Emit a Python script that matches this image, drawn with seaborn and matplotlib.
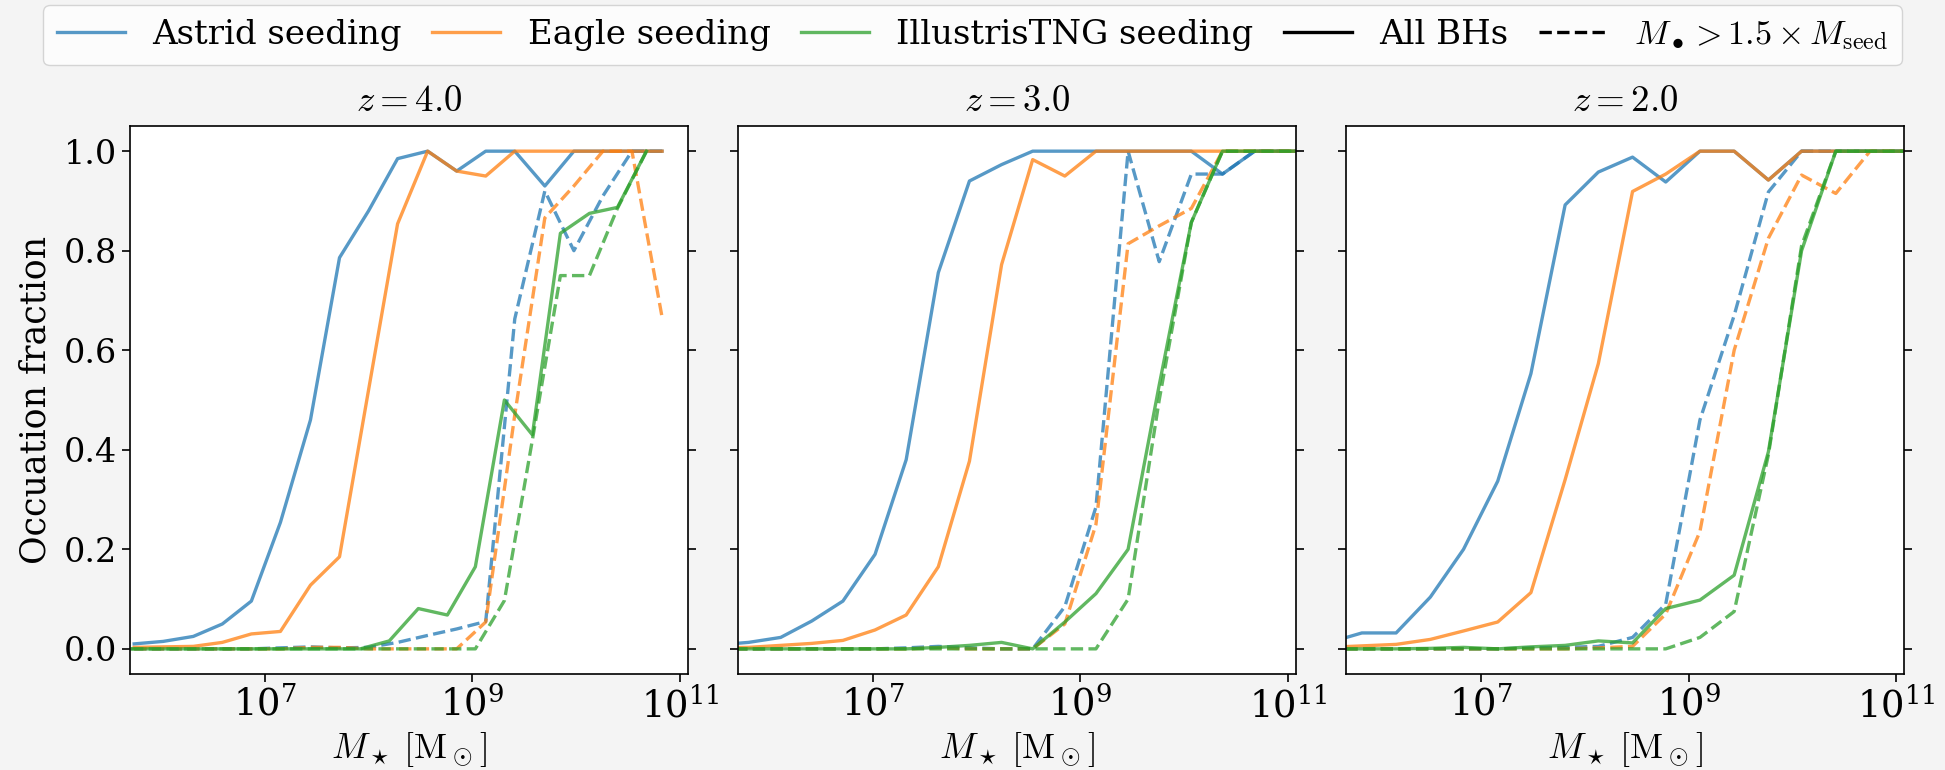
import numpy as np
import pandas as pd
import seaborn as sns
import matplotlib.pyplot as plt
from matplotlib.lines import Line2D
from matplotlib.ticker import FixedLocator, NullLocator

plt.rcParams['font.family'] = ['DejaVu Serif']
plt.rcParams['mathtext.fontset'] = 'cm'

seeds = ["Astrid seeding", "Eagle seeding", "IllustrisTNG seeding"]
colors = ["tab:blue", "tab:orange", "tab:green"]
samples = ["All BHs", "M > 1.5 Mseed"]
redshifts = [4.0, 3.0, 2.0]

# log10(M_star) bin centres
logm_z4_astrid_eagle = [5.74, 6.02, 6.31, 6.59, 6.87, 7.15, 7.44, 7.72, 8.00, 8.28,
                        8.57, 8.85, 9.13, 9.41, 9.70, 9.98, 10.26, 10.54, 10.83]
logm_z4_tng = [5.71, 5.99, 6.26, 6.54, 6.82, 7.09, 7.37, 7.64, 7.92, 8.20,
               8.48, 8.76, 9.03, 9.31, 9.58, 9.85, 10.13, 10.40, 10.68]
logm_z3 = [5.50, 5.80, 6.11, 6.41, 6.71, 7.02, 7.32, 7.63, 7.93, 8.24,
           8.54, 8.85, 9.15, 9.46, 9.76, 10.07, 10.37, 10.68, 10.98, 11.29]
logm_z2 = [5.52, 5.85, 6.18, 6.51, 6.83, 7.16, 7.48, 7.81, 8.13, 8.46,
           8.78, 9.11, 9.44, 9.77, 10.09, 10.42, 10.75, 11.07]

# z = 4.0
astrid_all_z4 = [0.01, 0.015, 0.025, 0.05, 0.096, 0.254, 0.46, 0.786, 0.88, 0.985,
                 1.0, 0.96, 1.0, 1.0, 0.93, 1.0, 1.0, 1.0, 1.0]
astrid_big_z4 = [0, 0, 0, 0, 0, 0.002, 0.004, 0.002, 0.003, 0.013,
                 0.027, 0.04, 0.055, 0.663, 0.92, 0.80, 0.91, 1.0, 1.0]
eagle_all_z4 = [0.003, 0.004, 0.005, 0.013, 0.03, 0.035, 0.128, 0.185, 0.52, 0.854,
                1.0, 0.96, 0.95, 1.0, 1.0, 1.0, 1.0, 1.0, 1.0]
eagle_big_z4 = [0, 0, 0, 0, 0, 0, 0.003, 0.003, 0, 0,
                0, 0, 0.054, 0.47, 0.866, 0.93, 1.0, 1.0, 0.667]
tng_all_z4 = [0, 0, 0, 0, 0, 0, 0, 0, 0, 0.016,
              0.081, 0.068, 0.165, 0.5, 0.43, 0.835, 0.875, 0.887, 1.0]
tng_big_z4 = [0, 0, 0, 0, 0, 0, 0, 0, 0, 0,
              0, 0, 0, 0.097, 0.42, 0.75, 0.75, 0.885, 1.0]

# z = 3.0
astrid_all_z3 = [0.008, 0.013, 0.023, 0.056, 0.096, 0.19, 0.38, 0.756, 0.94, 0.973,
                 1.0, 1.0, 1.0, 1.0, 1.0, 1.0, 0.954, 1.0, 1.0, 1.0]
astrid_big_z3 = [0, 0, 0, 0, 0, 0, 0.002, 0.005, 0.002, 0,
                 0, 0.085, 0.285, 1.0, 0.778, 0.954, 0.954, 1.0, 1.0, 1.0]
eagle_all_z3 = [0.002, 0.003, 0.007, 0.011, 0.017, 0.038, 0.068, 0.165, 0.377, 0.772,
                0.983, 0.95, 1.0, 1.0, 1.0, 1.0, 1.0, 1.0, 1.0, 1.0]
eagle_big_z3 = [0, 0, 0, 0, 0, 0, 0, 0.002, 0, 0,
                0, 0.05, 0.25, 0.814, 0.85, 0.885, 1.0, 1.0, 1.0, 1.0]
tng_all_z3 = [0, 0, 0, 0, 0, 0, 0, 0.003, 0.007, 0.013,
              0.0, 0.054, 0.111, 0.2, 0.53, 0.857, 1.0, 1.0, 1.0, 1.0]
tng_big_z3 = [0, 0, 0, 0, 0, 0, 0, 0, 0, 0,
              0, 0, 0, 0.10, 0.5, 0.857, 1.0, 1.0, 1.0, 1.0]

# z = 2.0
astrid_all_z2 = [0.012, 0.032, 0.032, 0.104, 0.2, 0.337, 0.553, 0.892, 0.958, 0.988,
                 0.938, 1.0, 1.0, 0.942, 1.0, 1.0, 1.0, 1.0]
astrid_big_z2 = [0, 0, 0, 0, 0, 0, 0.002, 0.003, 0.005, 0.023,
                 0.09, 0.46, 0.67, 0.918, 1.0, 1.0, 1.0, 1.0]
eagle_all_z2 = [0.003, 0.006, 0.009, 0.019, 0.036, 0.054, 0.113, 0.34, 0.573, 0.919,
                0.954, 1.0, 1.0, 0.942, 1.0, 1.0, 1.0, 1.0]
eagle_big_z2 = [0, 0, 0, 0, 0, 0, 0, 0, 0.002, 0.005,
                0.07, 0.236, 0.6, 0.825, 0.952, 0.915, 1.0, 1.0]
tng_all_z2 = [0, 0, 0, 0.001, 0.003, 0, 0.004, 0.007, 0.016, 0.012,
              0.081, 0.098, 0.148, 0.396, 0.8, 1.0, 1.0, 1.0]
tng_big_z2 = [0, 0, 0, 0, 0, 0, 0, 0, 0, 0,
              0, 0.023, 0.075, 0.39, 0.81, 1.0, 1.0, 1.0]

curves = [
    (4.0, seeds[0], logm_z4_astrid_eagle, astrid_all_z4, astrid_big_z4),
    (4.0, seeds[1], logm_z4_astrid_eagle, eagle_all_z4, eagle_big_z4),
    (4.0, seeds[2], logm_z4_tng, tng_all_z4, tng_big_z4),
    (3.0, seeds[0], logm_z3, astrid_all_z3, astrid_big_z3),
    (3.0, seeds[1], logm_z3, eagle_all_z3, eagle_big_z3),
    (3.0, seeds[2], logm_z3, tng_all_z3, tng_big_z3),
    (2.0, seeds[0], logm_z2, astrid_all_z2, astrid_big_z2),
    (2.0, seeds[1], logm_z2, eagle_all_z2, eagle_big_z2),
    (2.0, seeds[2], logm_z2, tng_all_z2, tng_big_z2),
]

rows = []
for z, seed, logm, f_all, f_big in curves:
    for lm, a, b in zip(logm, f_all, f_big):
        rows.append((z, seed, samples[0], 10**lm, a))
        rows.append((z, seed, samples[1], 10**lm, b))
df = pd.DataFrame(rows, columns=["z", "seed", "sample", "mstar", "frac"])

fig, axes = plt.subplots(1, 3, figsize=(19.45, 7.7), dpi=100, sharey=True)
fig.patch.set_facecolor("#f4f4f4")
fig.subplots_adjust(left=0.0668, right=0.979, top=0.836, bottom=0.125, wspace=0.09)

pal = dict(zip(seeds, colors))
for ax, z in zip(axes, redshifts):
    sns.lineplot(data=df[df.z == z], x="mstar", y="frac", hue="seed", style="sample",
                 palette=pal, dashes={samples[0]: "", samples[1]: (3.7, 1.6)},
                 estimator=None, alpha=0.75, lw=2.4, legend=False, ax=ax)
    ax.set_xscale("log")
    ax.set_xlim(5e5, 1.2e11)
    ax.set_ylim(-0.05, 1.05)
    ax.xaxis.set_major_locator(FixedLocator([1e7, 1e9, 1e11]))
    ax.xaxis.set_minor_locator(NullLocator())
    ax.set_facecolor("white")
    ax.set_title(r"$z = %.1f$" % z, fontsize=26.5, pad=11)
    ax.set_xlabel(r"$M_\star\;[\mathrm{M}_\odot]$", fontsize=26)
    ax.set_ylabel("")
    ax.tick_params(axis="both", labelsize=24, length=6, width=1.2, direction="out")
    ax.tick_params(axis="x", labelsize=26.5)
    ax.tick_params(axis="y", right=True)
    for s in ax.spines.values():
        s.set_linewidth(1.2)

axes[0].set_ylabel("Occuation fraction", fontsize=25, labelpad=8)
axes[0].set_yticks([0.0, 0.2, 0.4, 0.6, 0.8, 1.0])

handles = [Line2D([0], [0], color=c, lw=2.4, alpha=0.75) for c in colors]
handles += [Line2D([0], [0], color="black", lw=2.4),
            Line2D([0], [0], color="black", lw=2.4, ls="--")]
labels = seeds + ["All BHs", r"$M_\bullet > 1.5 \times M_{\rm seed}$"]
fig.legend(handles, labels, loc="upper center", bbox_to_anchor=(0.5, 0.993), ncol=5,
           fontsize=24.5, columnspacing=0.9, handlelength=2.0, borderaxespad=0,
           frameon=True)

fig.savefig("out.png", dpi=100, facecolor=fig.get_facecolor())
